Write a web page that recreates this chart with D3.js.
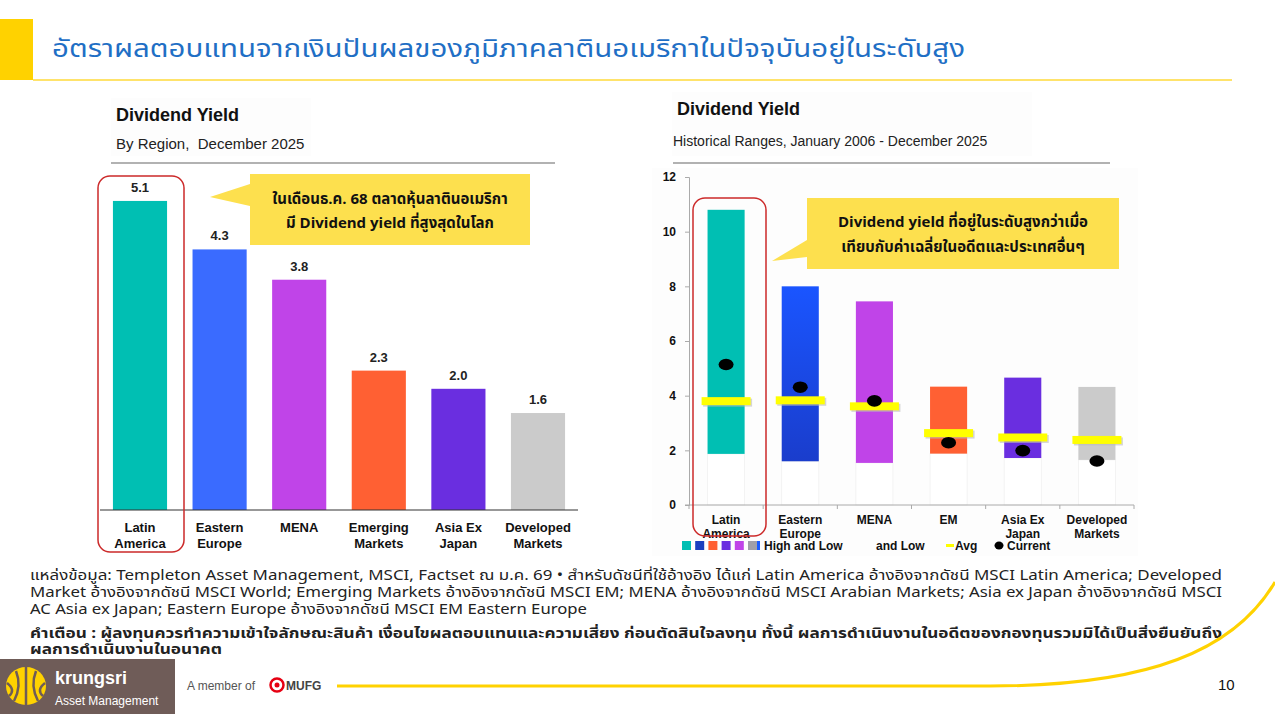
<!DOCTYPE html>
<html>
<head>
<meta charset="utf-8">
<script src="https://cdn.jsdelivr.net/npm/d3@7"></script>
<style>
  body { margin: 0; background: #fff; }
  svg { display: block; }
  .lat { font-family: "Liberation Sans", Arial, sans-serif; }
  .th { font-family: "Noto Sans Thai", "Noto Sans Thai Looped", "Noto Sans", "DejaVu Sans", sans-serif; }
</style>
</head>
<body>
<svg id="page" width="1275" height="714"></svg>
<script>
// DATA - left chart (December 2025)
var regions = ["Latin America", "Eastern Europe", "MENA", "Emerging Markets", "Asia Ex Japan", "Developed Markets"];
var regionLabels = [["Latin", "America"], ["Eastern", "Europe"], ["MENA"], ["Emerging", "Markets"], ["Asia Ex", "Japan"], ["Developed", "Markets"]];
var yieldNow = [5.1, 4.3, 3.8, 2.3, 2.0, 1.6];

// DATA - right chart (historical ranges Jan 2006 - Dec 2025)
var histCats = ["Latin America", "Eastern Europe", "MENA", "EM", "Asia Ex Japan", "Developed Markets"];
var histLabels = [["Latin", "America"], ["Eastern", "Europe"], ["MENA"], ["EM"], ["Asia Ex", "Japan"], ["Developed", "Markets"]];
var histHigh = [10.8, 8.0, 7.45, 4.33, 4.66, 4.32];
var histLow = [1.87, 1.6, 1.54, 1.88, 1.72, 1.65];
var histAvg = [3.8, 3.83, 3.61, 2.63, 2.47, 2.38];
var histCurrent = [5.14, 4.31, 3.81, 2.28, 1.99, 1.61];
var yTicks = [0, 2, 4, 6, 8, 10, 12];

var colsLeft = ["#00bfb3", "#3a6bff", "#c044e8", "#ff6033", "#6a2ee0", "#cbcbcb"];
var colsRight = ["#00bfb3", "url(#eeGrad)", "#c044e8", "#ff6033", "#6a2ee0", "#cbcbcb"];
var legendSw = ["#00bfb3", "#1a3fbf", "#ff6033", "#6a2ee0", "#c044e8", "#a0a0a8"];

var svg = d3.select("#page");
var defs = svg.append("defs");
var gr = defs.append("linearGradient").attr("id", "eeGrad").attr("x1", 0).attr("y1", 0).attr("x2", 0).attr("y2", 1);
gr.append("stop").attr("offset", "0%").attr("stop-color", "#1a55ff");
gr.append("stop").attr("offset", "100%").attr("stop-color", "#1a3dcc");

// HEADER
svg.append("rect").attr("x", 0).attr("y", 19).attr("width", 33).attr("height", 61).attr("fill", "#ffd200");
svg.append("line").attr("x1", 33).attr("x2", 1232).attr("y1", 80).attr("y2", 80)
	.attr("stroke", "#ffe36b").attr("stroke-width", 2);
svg.append("text").attr("class", "th").attr("x", 52).attr("y", 57)
	.attr("font-size", 24).attr("fill", "#1f6fc5")
	.attr("textLength", 913).attr("lengthAdjust", "spacingAndGlyphs")
	.text("อัตราผลตอบแทนจากเงินปันผลของภูมิภาคลาตินอเมริกาในปัจจุบันอยู่ในระดับสูง");

//LEFT CHART
var gl = svg.append("g");
gl.append("rect").attr("x", 111).attr("y", 98).attr("width", 200).attr("height", 58).attr("fill", "#fdfdfd");
gl.append("text").attr("class", "lat").attr("x", 116).attr("y", 121)
	.attr("font-size", 18).attr("font-weight", "bold").attr("fill", "#111").text("Dividend Yield");
gl.append("text").attr("class", "lat").attr("x", 116).attr("y", 149)
	.attr("font-size", 15).attr("fill", "#222").text("By Region,\u00a0 December 2025");
gl.append("line").attr("x1", 111).attr("x2", 555).attr("y1", 163).attr("y2", 163)
	.attr("stroke", "#999").attr("stroke-width", 1.5);

var xL = d3.scaleBand().domain(regions).range([98.6, 579.4]).paddingInner(0.32).paddingOuter(0.18);
var yL = d3.scaleLinear().domain([0, 6]).range([510, 146.4]);

gl.selectAll(".barL").data(regions).enter().append("rect")
	.attr("class", "barL")
	.attr("x", function(d) { return xL(d); })
	.attr("width", xL.bandwidth())
	.attr("y", function(d, i) { return yL(yieldNow[i]); })
	.attr("height", function(d, i) { return yL(0) - yL(yieldNow[i]); })
	.attr("fill", function(d, i) { return colsLeft[i]; });

gl.selectAll(".valL").data(regions).enter().append("text")
	.attr("class", "lat")
	.attr("x", function(d) { return xL(d) + xL.bandwidth() / 2; })
	.attr("y", function(d, i) { return yL(yieldNow[i]) - 9; })
	.attr("text-anchor", "middle").attr("font-size", 13).attr("font-weight", "bold").attr("fill", "#222")
	.text(function(d, i) { return yieldNow[i].toFixed(1); });

gl.append("line").attr("x1", 100).attr("x2", 578).attr("y1", yL(0)).attr("y2", yL(0))
	.attr("stroke", "#333").attr("stroke-width", 1.2);

var catL = gl.selectAll(".catL").data(regions).enter().append("text")
	.attr("class", "lat")
	.attr("text-anchor", "middle").attr("font-size", 13).attr("font-weight", "bold").attr("fill", "#111");
catL.each(function(d, i) {
	var t = d3.select(this);
	regionLabels[i].forEach(function(s, k) {
		t.append("tspan").attr("x", xL(d) + xL.bandwidth() / 2).attr("y", 532 + k * 16).text(s);
	});
});

// red highlight + callout
gl.append("rect").attr("x", 98).attr("y", 176).attr("width", 86).attr("height", 376).attr("rx", 12)
	.attr("fill", "none").attr("stroke", "#cc2a2a").attr("stroke-width", 1.5);
gl.append("path").attr("d", "M250,184 L210,197 L250,206 Z").attr("fill", "#fde04e");
gl.append("rect").attr("x", 250).attr("y", 174).attr("width", 280).attr("height", 71).attr("fill", "#fde04e");
gl.append("text").attr("class", "th").attr("x", 390).attr("y", 204).attr("text-anchor", "middle")
	.attr("font-size", 15).attr("font-weight", "bold").attr("fill", "#111")
	.text("ในเดือนธ.ค. 68 ตลาดหุ้นลาตินอเมริกา");
gl.append("text").attr("class", "th").attr("x", 390).attr("y", 228).attr("text-anchor", "middle")
	.attr("font-size", 15).attr("font-weight", "bold").attr("fill", "#111")
	.text("มี Dividend yield ที่สูงสุดในโลก");

//RIGHT CHART
var gr2 = svg.append("g");
gr2.append("rect").attr("x", 672).attr("y", 92).attr("width", 360).attr("height", 64).attr("fill", "#fdfdfd");
gr2.append("rect").attr("x", 652).attr("y", 168).attr("width", 486).attr("height", 388).attr("fill", "#fdfdfd");
gr2.append("text").attr("class", "lat").attr("x", 677).attr("y", 115)
	.attr("font-size", 18).attr("font-weight", "bold").attr("fill", "#111").text("Dividend Yield");
gr2.append("text").attr("class", "lat").attr("x", 673).attr("y", 146)
	.attr("font-size", 14).attr("fill", "#222").text("Historical Ranges, January 2006 - December 2025");
gr2.append("line").attr("x1", 673).attr("x2", 1110).attr("y1", 163).attr("y2", 163)
	.attr("stroke", "#999").attr("stroke-width", 1.5);

var xR = d3.scaleBand().domain(histCats).range([689, 1134]).paddingInner(0.5).paddingOuter(0.25);
var yR = d3.scaleLinear().domain([0, 12]).range([505, 177]);

// faint lower column outlines
gr2.selectAll(".ghost").data(histCats).enter().append("rect")
	.attr("x", function(d) { return xR(d); })
	.attr("width", xR.bandwidth())
	.attr("y", function(d, i) { return yR(histLow[i]); })
	.attr("height", function(d, i) { return yR(0) - yR(histLow[i]); })
	.attr("fill", "#fff").attr("stroke", "#f0f0f0").attr("stroke-width", 0.8);

gr2.selectAll(".range").data(histCats).enter().append("rect")
	.attr("x", function(d) { return xR(d); })
	.attr("width", xR.bandwidth())
	.attr("y", function(d, i) { return yR(histHigh[i]); })
	.attr("height", function(d, i) { return yR(histLow[i]) - yR(histHigh[i]); })
	.attr("fill", function(d, i) { return colsRight[i]; });

gr2.selectAll(".avgSh").data(histCats).enter().append("rect")
	.attr("x", function(d) { return xR(d) + xR.bandwidth() / 2 - 24 + 1; })
	.attr("width", 49)
	.attr("y", function(d, i) { return yR(histAvg[i]) - 4 + 1.5; })
	.attr("height", 8).attr("fill", "#bbb").attr("opacity", 0.6);
gr2.selectAll(".avg").data(histCats).enter().append("rect")
	.attr("x", function(d) { return xR(d) + xR.bandwidth() / 2 - 24.5; })
	.attr("width", 49)
	.attr("y", function(d, i) { return yR(histAvg[i]) - 4; })
	.attr("height", 8).attr("fill", "#ffff00");

gr2.selectAll(".cur").data(histCats).enter().append("ellipse")
	.attr("cx", function(d) { return xR(d) + xR.bandwidth() / 2; })
	.attr("cy", function(d, i) { return yR(histCurrent[i]); })
	.attr("rx", 7.5).attr("ry", 5.8).attr("fill", "#000");

// axes
var yAx = gr2.append("g").attr("transform", "translate(689,0)")
	.call(d3.axisLeft(yR).tickValues(yTicks).tickSize(4).tickPadding(9));
yAx.select(".domain").attr("stroke", "#aaa");
yAx.selectAll(".tick line").attr("stroke", "#aaa");
yAx.selectAll("text").attr("class", "lat").attr("font-size", 12).attr("font-weight", "bold").attr("fill", "#111");

var xB = d3.range(histCats.length + 1).map(function(i) { return 689 + i * xR.step(); });
gr2.append("line").attr("x1", 685).attr("x2", 1134).attr("y1", yR(0)).attr("y2", yR(0))
	.attr("stroke", "#aaa").attr("stroke-width", 1);
gr2.selectAll(".xt").data(xB).enter().append("line")
	.attr("x1", function(d) { return d; }).attr("x2", function(d) { return d; })
	.attr("y1", yR(0)).attr("y2", yR(0) + 4).attr("stroke", "#aaa");

var catR = gr2.selectAll(".catR").data(histCats).enter().append("text")
	.attr("class", "lat")
	.attr("text-anchor", "middle").attr("font-size", 12).attr("font-weight", "bold").attr("fill", "#111");
catR.each(function(d, i) {
	var t = d3.select(this);
	histLabels[i].forEach(function(s, k) {
		t.append("tspan").attr("x", xR(d) + xR.bandwidth() / 2).attr("y", 524 + k * 14).text(s);
	});
});

// legend
gr2.selectAll(".sw").data(legendSw).enter().append("rect")
	.attr("x", function(d, i) { return 682 + i * 13.2; }).attr("y", 541)
	.attr("width", 9).attr("height", 9).attr("fill", function(d) { return d; });
gr2.append("rect").attr("x", 757).attr("y", 541).attr("width", 3).attr("height", 9).attr("fill", "#1a5cff");
gr2.append("text").attr("class", "lat").attr("x", 764).attr("y", 550).attr("font-size", 12).attr("font-weight", "bold").attr("fill", "#111").text("High and Low");
gr2.append("text").attr("class", "lat").attr("x", 876).attr("y", 550).attr("font-size", 12).attr("font-weight", "bold").attr("fill", "#111").text("and Low");
gr2.append("rect").attr("x", 946).attr("y", 544).attr("width", 8).attr("height", 3).attr("fill", "#ffff00");
gr2.append("text").attr("class", "lat").attr("x", 955).attr("y", 550).attr("font-size", 12).attr("font-weight", "bold").attr("fill", "#111").text("Avg");
gr2.append("ellipse").attr("cx", 999).attr("cy", 545.5).attr("rx", 4.5).attr("ry", 4).attr("fill", "#000");
gr2.append("text").attr("class", "lat").attr("x", 1007).attr("y", 550).attr("font-size", 12).attr("font-weight", "bold").attr("fill", "#111").text("Current");

// red highlight + callout
gr2.append("rect").attr("x", 693).attr("y", 198).attr("width", 73).attr("height", 338).attr("rx", 12)
	.attr("fill", "none").attr("stroke", "#cc2a2a").attr("stroke-width", 1.5);
gr2.append("path").attr("d", "M807,240 L772,261 L807,257 Z").attr("fill", "#fde04e");
gr2.append("rect").attr("x", 807).attr("y", 198).attr("width", 312).attr("height", 71).attr("fill", "#fde04e");
gr2.append("text").attr("class", "th").attr("x", 963).attr("y", 227).attr("text-anchor", "middle")
	.attr("font-size", 15).attr("font-weight", "bold").attr("fill", "#111")
	.text("Dividend yield ที่อยู่ในระดับสูงกว่าเมื่อ");
gr2.append("text").attr("class", "th").attr("x", 963).attr("y", 252).attr("text-anchor", "middle")
	.attr("font-size", 15).attr("font-weight", "bold").attr("fill", "#111")
	.text("เทียบกับค่าเฉลี่ยในอดีตและประเทศอื่นๆ");

//FOOTNOTES
var notes = [
	["แหล่งข้อมูล: Templeton Asset Management, MSCI, Factset ณ ม.ค. 69 • สำหรับดัชนีที่ใช้อ้างอิง ได้แก่ Latin America อ้างอิงจากดัชนี MSCI Latin America; Developed", 580, 1192, false],
	["Market อ้างอิงจากดัชนี MSCI World; Emerging Markets อ้างอิงจากดัชนี MSCI EM; MENA อ้างอิงจากดัชนี MSCI Arabian Markets; Asia ex Japan อ้างอิงจากดัชนี MSCI", 597, 1192, false],
	["AC Asia ex Japan; Eastern Europe อ้างอิงจากดัชนี MSCI EM Eastern Europe", 614, 557, false],
	["คำเตือน : ผู้ลงทุนควรทำความเข้าใจลักษณะสินค้า เงื่อนไขผลตอบแทนและความเสี่ยง ก่อนตัดสินใจลงทุน ทั้งนี้ ผลการดำเนินงานในอดีตของกองทุนรวมมิได้เป็นสิ่งยืนยันถึง", 638, 1192, true],
	["ผลการดำเนินงานในอนาคต", 654, 192, true]
];
notes.forEach(function(n) {
	svg.append("text").attr("class", "th").attr("x", 30).attr("y", n[1])
		.attr("font-size", 13.5).attr("font-weight", n[3] ? "bold" : "normal").attr("fill", "#222")
		.attr("textLength", n[2]).attr("lengthAdjust", "spacingAndGlyphs")
		.text(n[0]);
});

//FOOTER
svg.append("path").attr("d", "M337,686 L990,686 C1150,686 1235,650 1275,582")
	.attr("fill", "none").attr("stroke", "#ffd200").attr("stroke-width", 3);
svg.append("rect").attr("x", 0).attr("y", 659).attr("width", 175).attr("height", 55).attr("fill", "#6f5c58");
var logo = svg.append("g").attr("transform", "translate(26,686)");
logo.append("ellipse").attr("rx", 20).attr("ry", 19).attr("fill", "#ffd200");
logo.append("path").attr("d", "M0,-19 L0,19 M-10,-15 Q-4,0 -12,15 M10,-15 Q4,0 12,15 M-19,-3 Q-10,4 -17,10 M19,-3 Q10,4 17,10")
	.attr("stroke", "#6f5c58").attr("stroke-width", 2.5).attr("fill", "none");
svg.append("text").attr("class", "lat").attr("x", 55).attr("y", 684).attr("font-size", 18).attr("font-weight", "bold")
	.attr("fill", "#fff").text("krungsri");
svg.append("text").attr("class", "lat").attr("x", 55).attr("y", 705).attr("font-size", 12)
	.attr("fill", "#fff").text("Asset Management");
svg.append("text").attr("class", "lat").attr("x", 187).attr("y", 690).attr("font-size", 12)
	.attr("fill", "#555").text("A member of");
svg.append("circle").attr("cx", 277).attr("cy", 685).attr("r", 6.5).attr("fill", "none").attr("stroke", "#e60012").attr("stroke-width", 2.5);
svg.append("circle").attr("cx", 277).attr("cy", 685).attr("r", 2.5).attr("fill", "#e60012");
svg.append("text").attr("class", "lat").attr("x", 286).attr("y", 690).attr("font-size", 12).attr("font-weight", "bold")
	.attr("fill", "#444").text("MUFG");
svg.append("text").attr("class", "lat").attr("x", 1218).attr("y", 690).attr("font-size", 15)
	.attr("fill", "#111").text("10");
</script>
</body>
</html>
